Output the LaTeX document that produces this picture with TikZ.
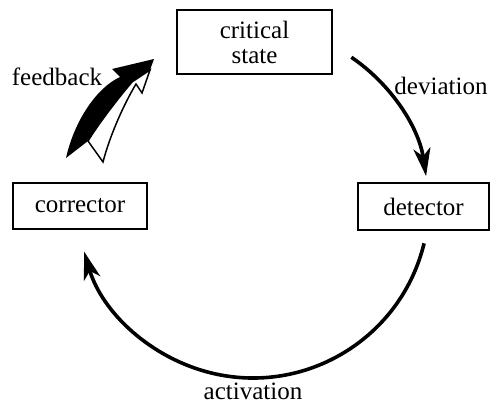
\documentclass[tikz,border=0pt]{standalone}
\usepackage{fontspec}
\setmainfont{Liberation Serif}
\usetikzlibrary{positioning}
\usetikzlibrary{arrows.meta}
\tikzset{statebox/.style={draw, line width=2.5pt, align=center, inner sep=0pt},
loop arrow/.style={line width=3.6pt, -{Stealth[length=28pt, width=17pt, inset=8pt]}},
lbl/.style={inner sep=0pt}}

\begin{document}
\begin{tikzpicture}[x=1pt, y=-1pt, font=\fontsize{25}{25}\selectfont]
	\useasboundingbox (0,0) rectangle (490,415);

	\node[statebox, minimum width=155pt, minimum height=64pt] (crit) at (254.5,42) {critical\\state};
	\node[statebox, minimum width=131pt, minimum height=47pt] (det) at (423.5,206.5) {detector};
	\node[statebox, minimum width=134pt, minimum height=46pt] (corr) at (80,206) {corrector};

	\coordinate (ctr) at (253,202);
	\path (ctr) ++(-55.8:175) coordinate (devS);
	\path (ctr) ++(13.6:176) coordinate (actS);
	\path (ctr) ++(90:176) coordinate (actbot);

	\draw[loop arrow] (devS) arc[start angle=-55.8, end angle=-8.5, radius=175];
	\draw[loop arrow] (actS) arc[start angle=13.6, end angle=163.6, radius=176];

	\fill (66,158) .. controls (74,122) and (96,88) .. (120,77) -- (112,69) -- (154,59)
		-- (150,70) -- (132,82) .. controls (121,95) and (101,120) .. (88,141) -- cycle;
	\filldraw[fill=white, line width=1.5pt] (150,70) -- (142,93) -- (136,84)
		.. controls (124,104) and (110,135) .. (103,162) -- (88,141)
		.. controls (101,120) and (121,95) .. (132,82) -- cycle;

	\node[lbl, anchor=base] (feed) at (57,85) {feedback};
	\node[lbl, anchor=base] (dev) at (441,94) {deviation};
	\node[lbl, below=5pt of actbot] (act) {activation};
\end{tikzpicture}
\end{document}
